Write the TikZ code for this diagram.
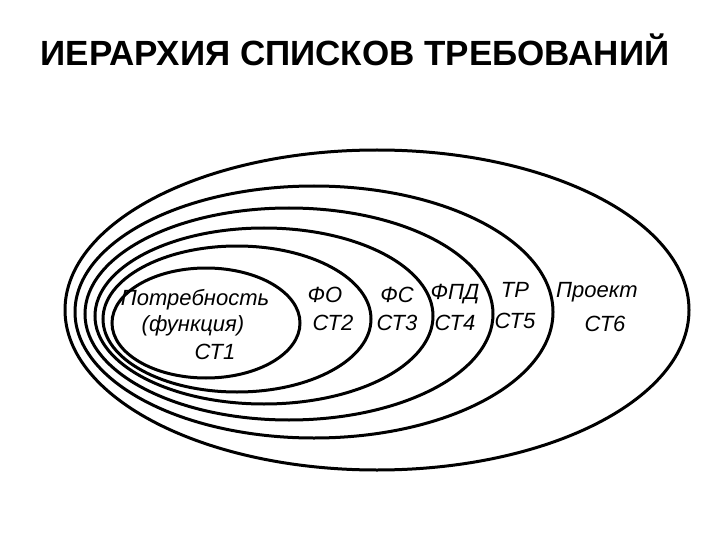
\documentclass[tikz,border=0pt]{standalone}
\usepackage{fontspec}
\setmainfont{Liberation Sans}
\begin{document}
\begin{tikzpicture}[x=1pt,y=-1pt,
  ring/.style={draw=black,line width=3pt},
  lab/.style={font=\itshape\fontsize{22}{24}\selectfont,inner sep=0pt}]
\useasboundingbox (0,0) rectangle (720,540);
\node[font=\bfseries\fontsize{35}{38}\selectfont] (title) at (355,50) {ИЕРАРХИЯ СПИСКОВ ТРЕБОВАНИЙ};
\draw[ring] (377,310) ellipse [x radius=312,y radius=160];
\draw[ring] (314,312) ellipse [x radius=239,y radius=126];
\draw[ring] (289,314) ellipse [x radius=204,y radius=106];
\draw[ring] (264,316) ellipse [x radius=169,y radius=88];
\draw[ring] (237,319) ellipse [x radius=134,y radius=73];
\draw[ring] (206,323) ellipse [x radius=94,y radius=55];
\node[lab] (n1a) at (195,300) {Потребность};
\node[lab] (n1b) at (193,326) {(функция)};
\node[lab] (n1c) at (215,352) {СТ1};
\node[lab] (n2a) at (325,295) {ФО};
\node[lab] (n2b) at (333,323) {СТ2};
\node[lab] (n3a) at (397,295) {ФС};
\node[lab] (n3b) at (397,323) {СТ3};
\node[lab] (n4a) at (455,294) {ФПД};
\node[lab] (n4b) at (455,323) {СТ4};
\node[lab] (n5a) at (515,290) {ТР};
\node[lab] (n5b) at (515,321) {СТ5};
\node[lab] (n6a) at (597,292) {Проект};
\node[lab] (n6b) at (605,324) {СТ6};
\end{tikzpicture}
\end{document}
